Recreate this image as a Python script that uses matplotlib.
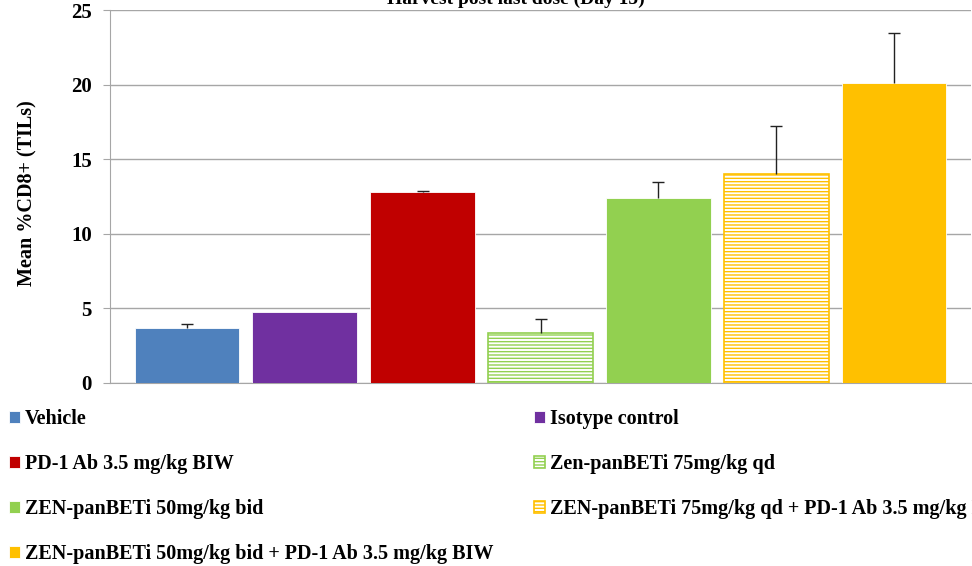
import matplotlib
matplotlib.use("Agg")
import matplotlib.pyplot as plt
import numpy as np

plt.rcParams['font.family'] = ['Liberation Serif', 'DejaVu Serif']
plt.rcParams['hatch.linewidth'] = 1.0

groups = ["Vehicle", "Isotype control", "PD-1 Ab 3.5 mg/kg BIW",
          "Zen-panBETi 75mg/kg qd", "ZEN-panBETi 50mg/kg bid",
          "ZEN-panBETi 75mg/kg qd + PD-1 Ab 3.5 mg/kg BIW",
          "ZEN-panBETi 50mg/kg bid + PD-1 Ab 3.5 mg/kg BIW"]
means = [3.67, 4.76, 12.78, 3.37, 12.38, 14.03, 20.12]
sem_upper = [0.28, 0.0, 0.11, 0.90, 1.07, 3.17, 3.36]
colors = ["#4F81BD", "#7030A0", "#C00000", "#92D050", "#92D050", "#FFC000", "#FFC000"]
hatched = [False, False, False, True, False, True, False]
yticks = [0, 5, 10, 15, 20, 25]
title = "Harvest post last dose (Day 15)"
ylabel = "Mean %CD8+ (TILs)"

W, H = 972, 566
fig = plt.figure(figsize=(W / 100, H / 100), dpi=100)
ax = fig.add_axes([110 / W, 1 - 383 / H, (971 - 110) / W, (383 - 10) / H])

x = np.arange(len(means))
bars = []
for i in range(len(means)):
    if hatched[i]:
        b = ax.bar(x[i], means[i], width=0.89, color="white", edgecolor=colors[i],
                   hatch="-----", linewidth=1.2, zorder=3, label=groups[i])
    else:
        b = ax.bar(x[i], means[i], width=0.89, color=colors[i], edgecolor="white",
                   linewidth=0.6, zorder=3, label=groups[i])
    bars.append(b)

# upward-only error bars (cap at the top end only)
err = np.array(sem_upper)
has_err = err > 0
eb = ax.errorbar(x[has_err], np.array(means)[has_err],
                 yerr=[np.zeros(has_err.sum()), err[has_err]],
                 fmt="none", ecolor="#222222", elinewidth=1.0, capsize=4.5,
                 capthick=1.0, zorder=4)
eb[1][0].set_visible(False)

ax.set_xlim(-0.654, len(means) - 1 + 0.654)
ax.set_ylim(0, 25)
ax.set_yticks(yticks)
ax.set_yticklabels([str(t) for t in yticks], fontsize=15, fontweight="bold")
ax.set_xticks([])
ax.yaxis.grid(True, color="#A6A6A6", linewidth=1.0, zorder=0)
ax.set_axisbelow(True)
for s in ["top", "right"]:
    ax.spines[s].set_visible(False)
ax.spines["left"].set_color("#A6A6A6")
ax.spines["bottom"].set_color("#A6A6A6")
ax.tick_params(axis="y", length=5, color="#A6A6A6", pad=8)

fig.text(27 / W, 1 - 193 / H, ylabel, rotation=90, ha="center", va="center",
         fontsize=14.5, fontweight="bold")
fig.text(516 / W, 1 - 4 / H, title, ha="center", va="baseline", fontsize=14, fontweight="bold")

handles = [b.patches[0] for b in bars]
common = dict(frameon=False, prop={"weight": "bold", "size": 14.5},
              handlelength=0.55, handleheight=0.55, handletextpad=0.25,
              labelspacing=1.24, borderaxespad=0, borderpad=0)
left_idx = [0, 2, 4, 6]
right_idx = [1, 3, 5]
leg1 = fig.legend([handles[i] for i in left_idx], [groups[i] for i in left_idx],
                  loc="upper left", bbox_to_anchor=(9 / W, 1 - 409 / H), **common)
leg2 = fig.legend([handles[i] for i in right_idx], [groups[i] for i in right_idx],
                  loc="upper left", bbox_to_anchor=(534 / W, 1 - 409 / H), **common)

fig.savefig("out.png", dpi=100)
